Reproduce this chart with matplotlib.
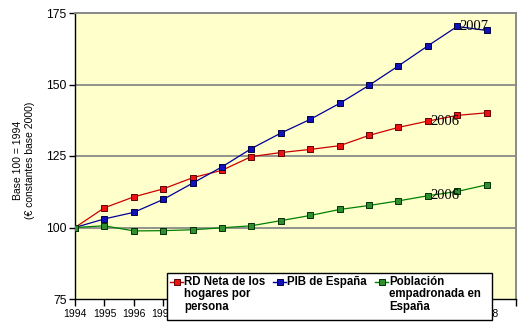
import matplotlib
matplotlib.use("Agg")
import matplotlib.pyplot as plt
from matplotlib.lines import Line2D
from matplotlib.patches import Rectangle

years = list(range(1994, 2009))
rd_neta = [100, 106.9, 110.7, 113.5, 117.4, 120.0, 124.8, 126.2, 127.3, 128.6,
           132.2, 135.0, 137.2, 139.2, 140.1]
pib = [100, 103.0, 105.3, 109.8, 115.5, 121.2, 127.6, 133.0, 137.8, 143.4,
       149.7, 156.5, 163.5, 170.3, 168.9]
poblacion = [100, 100.6, 98.8, 98.9, 99.2, 99.9, 100.6, 102.4, 104.2, 106.3,
             107.7, 109.3, 111.1, 112.6, 114.9]

series_labels = ["RD Neta de los\nhogares por\npersona", "PIB de España",
                 "Población\nempadronada en\nEspaña"]
# year that gets a text tag on each series
tag_years = [2006, 2007, 2006]

line_colors = ["#cc0000", "#000099", "#008000"]
face_colors = ["#ee1111", "#1111bb", "#2f8f2f"]
edge_colors = ["#600000", "#000040", "#003000"]

W, H = 530, 328
fig = plt.figure(figsize=(W / 100, H / 100), dpi=100)
fig.patch.set_facecolor("white")


def fx(x):
    return x / W


def fy(y):
    return 1 - y / H


ax = fig.add_axes([fx(75), fy(299), fx(516) - fx(75), fy(13) - fy(299)])
ax.set_facecolor("#ffffcc")

for yv in [100, 125, 150, 175]:
    ax.axhline(yv, color="#8a8a8a", lw=1.3, zorder=1)

all_series = [rd_neta, pib, poblacion]
for vals, lc, fc, ec, tag in zip(all_series, line_colors, face_colors, edge_colors, tag_years):
    ax.plot(years, vals, color=lc, lw=0.9, marker="s", ms=4.2,
            mfc=fc, mec=ec, mew=0.7, zorder=3)
    i = years.index(tag)
    ax.annotate(str(tag), (years[i], vals[i]), xytext=(1.5, 0),
                textcoords="offset points", ha="left", va="center",
                family="Liberation Serif", fontsize=10.5, color="black", zorder=4)

ax.set_xlim(1994, 2009)
ax.set_ylim(75, 175)
ax.set_yticks([75, 100, 125, 150, 175])
ax.set_xticks(list(range(1994, 2010)))
ax.set_xticklabels([str(y) for y in years] + [""])

for side in ["top", "right"]:
    ax.spines[side].set_color("#8a8a8a")
    ax.spines[side].set_linewidth(1.4)
for side in ["left", "bottom"]:
    ax.spines[side].set_color("black")
    ax.spines[side].set_linewidth(1.0)

ax.tick_params(axis="y", direction="out", length=4, width=1, pad=2,
               labelsize=8.7, colors="black")
ax.tick_params(axis="x", direction="out", length=5, width=1, pad=2,
               labelsize=7.5, colors="black")
for lab in ax.get_xticklabels() + ax.get_yticklabels():
    lab.set_family("Liberation Sans")

fig.text(fx(24), fy(160), "Base 100 = 1994\n(€ constantes base 2000)",
         rotation=90, ha="center", va="center", fontsize=7.5,
         family="Liberation Sans", linespacing=1.15)

# hand-built legend box below the lines
fig.add_artist(Rectangle((fx(167), fy(320)), fx(492) - fx(167), fy(273) - fy(320),
                         transform=fig.transFigure, facecolor="white",
                         edgecolor="black", lw=1.0, zorder=5))
legend_x = [170, 273, 375]
for x0, label, lc, fc, ec in zip(legend_x, series_labels, line_colors, face_colors, edge_colors):
    fig.add_artist(Line2D([fx(x0), fx(x0 + 13)], [fy(282), fy(282)],
                          transform=fig.transFigure, color=lc, lw=1.0, zorder=6))
    fig.add_artist(Line2D([fx(x0 + 6.5)], [fy(282)], transform=fig.transFigure,
                          marker="s", ms=5, mfc=fc, mec=ec, mew=0.7, zorder=7))
    fig.text(fx(x0 + 14), fy(276), label, ha="left", va="top", fontsize=8.3,
             fontweight="bold", family="Liberation Sans", linespacing=1.05,
             zorder=7)

fig.savefig("out.png", dpi=100)
